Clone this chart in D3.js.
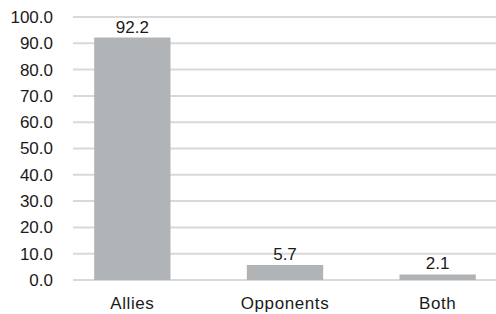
<!DOCTYPE html>
<html>
<head>
<meta charset="utf-8">
<script src="https://cdn.jsdelivr.net/npm/d3@7"></script>
<style>
  body { margin: 0; background: #fff; }
  text { font-family: "Liberation Sans", Arial, Helvetica, sans-serif; fill: #1a1a1a; }
</style>
</head>
<body>
<div id="chart"></div>
<script>
// chart size and margins
const width = 496;
const height = 314;
const margin = {left: 73, right: 0, top: 17, bottom: 34};

// data
const categories = ["Allies", "Opponents", "Both"];
const values = [92.2, 5.7, 2.1];
const yTicks = [0, 10, 20, 30, 40, 50, 60, 70, 80, 90, 100];

const svg = d3.select("#chart")
  .append("svg")
  .attr("width", width)
  .attr("height", height);

const y = d3.scaleLinear()
  .domain([0, 100])
  .range([height - margin.bottom, margin.top]);

// bands are wider than the gridded area, bars sit at ~94, 247, 399
const x = d3.scaleBand()
  .domain(categories)
  .range([56, 514])
  .paddingInner(0.5)
  .paddingOuter(0.25);

// gridlines
svg.append("g")
  .selectAll("line")
  .data(yTicks)
  .enter()
  .append("line")
    .attr("x1", margin.left)
    .attr("x2", width)
    .attr("y1", d => y(d))
    .attr("y2", d => y(d))
    .attr("stroke", "#d9d9d9")
    .attr("stroke-width", 2);

// y axis labels
svg.append("g")
  .attr("transform", `translate(53,0)`)
  .call(d3.axisLeft(y).tickValues(yTicks).tickFormat(d3.format(".1f")).tickSize(0).tickPadding(0))
  .call(g => g.select(".domain").remove())
  .selectAll("text")
    .attr("font-size", "17px")
    .attr("fill", "#1a1a1a");

// bars
svg.selectAll(".bar")
  .data(values)
  .enter()
  .append("rect")
    .attr("class", "bar")
    .attr("x", (d, i) => x(categories[i]))
    .attr("y", d => y(d))
    .attr("width", x.bandwidth())
    .attr("height", d => y(0) - y(d))
    .attr("fill", "#b1b4b6");

// value labels
svg.selectAll(".val")
  .data(values)
  .enter()
  .append("text")
    .attr("class", "val")
    .attr("x", (d, i) => x(categories[i]) + x.bandwidth() / 2)
    .attr("y", d => y(d) - 5)
    .attr("text-anchor", "middle")
    .attr("font-size", "17px")
    .text(d => d.toFixed(1));

// x axis labels
svg.append("g")
  .attr("transform", `translate(0,${y(0)})`)
  .call(d3.axisBottom(x).tickSize(0).tickPadding(17))
  .call(g => g.select(".domain").remove())
  .selectAll("text")
    .attr("font-size", "17px")
    .attr("letter-spacing", "0.6px")
    .attr("fill", "#1a1a1a");
</script>
</body>
</html>
